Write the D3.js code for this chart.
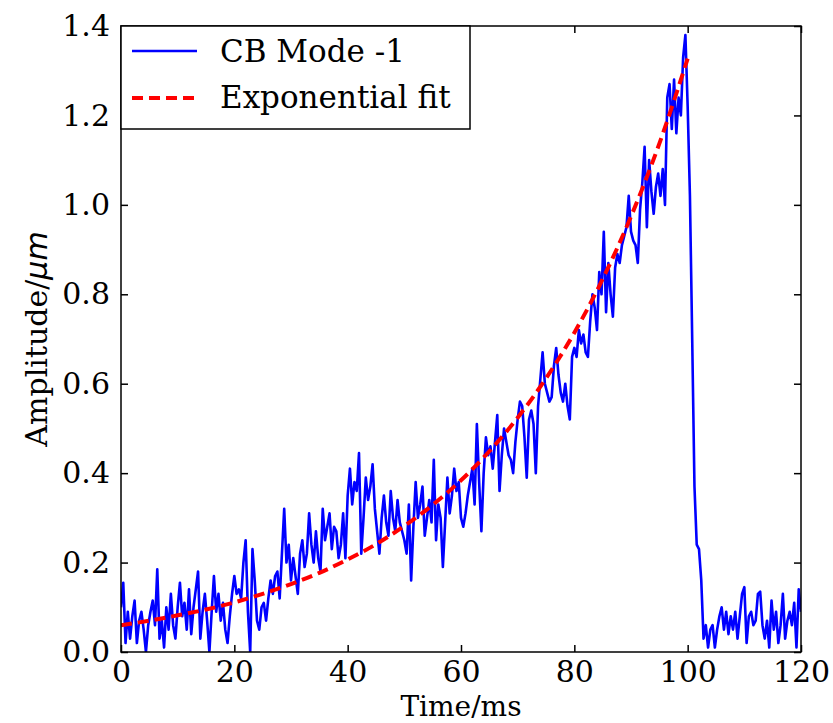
<!DOCTYPE html>
<html><head><meta charset="utf-8">
<script src="https://cdnjs.cloudflare.com/ajax/libs/d3/7.8.5/d3.min.js"></script>
<style>body{margin:0;background:#fff}</style></head>
<body><svg id="c" width="833" height="723"></svg>
<script>
// Sample grid of the measured signal (ms)
const timeStart = 0, timeStep = 0.4;
// CB Mode -1 amplitude (µm), one row per 10 ms
const cbMode = [
 0.10,0.155,0.02,0.09,0.03,0.08,0.115,0.02,0.07,0.09,0.05,0.0,0.06,0.09,0.115,0.06,0.185,0.03,0.07,0.01,0.10,0.05,0.13,0.06,0.03,
 0.10,0.155,0.08,0.11,0.05,0.14,0.04,0.10,0.14,0.18,0.03,0.09,0.13,0.07,0.0,0.09,0.17,0.09,0.13,0.07,0.11,0.05,0.02,0.08,0.13,
 0.17,0.13,0.14,0.12,0.20,0.25,0.09,0.0,0.23,0.16,0.07,0.05,0.10,0.11,0.07,0.12,0.16,0.13,0.17,0.18,0.12,0.22,0.32,0.20,0.24,
 0.16,0.21,0.17,0.13,0.22,0.25,0.19,0.22,0.31,0.24,0.20,0.27,0.21,0.18,0.32,0.25,0.28,0.31,0.23,0.28,0.27,0.21,0.24,0.31,0.21,
 0.35,0.41,0.33,0.38,0.36,0.445,0.22,0.30,0.39,0.34,0.37,0.42,0.32,0.27,0.22,0.30,0.35,0.29,0.26,0.36,0.30,0.27,0.34,0.29,0.27,
 0.25,0.22,0.33,0.16,0.28,0.38,0.30,0.33,0.37,0.26,0.30,0.34,0.29,0.43,0.25,0.33,0.30,0.19,0.29,0.39,0.31,0.35,0.41,0.36,0.38,
 0.30,0.28,0.31,0.35,0.38,0.41,0.33,0.51,0.38,0.27,0.40,0.48,0.44,0.46,0.41,0.47,0.53,0.36,0.44,0.50,0.47,0.44,0.43,0.40,0.47,
 0.52,0.56,0.55,0.48,0.39,0.52,0.54,0.51,0.40,0.55,0.61,0.67,0.60,0.58,0.56,0.57,0.64,0.68,0.62,0.58,0.56,0.60,0.55,0.52,0.66,
 0.68,0.66,0.72,0.69,0.71,0.67,0.66,0.74,0.80,0.77,0.72,0.85,0.80,0.94,0.76,0.87,0.80,0.75,0.86,0.89,0.87,0.91,0.93,0.95,1.02,
 0.94,0.92,0.91,0.87,0.99,1.05,1.13,0.95,1.10,1.03,0.98,1.04,1.07,1.02,1.08,1.00,1.24,1.27,1.17,1.28,1.16,1.24,1.20,1.33,1.38,
 1.22,1.02,0.70,0.37,0.24,0.23,0.16,0.03,0.06,0.01,0.05,0.06,0.01,0.05,0.08,0.10,0.05,0.09,0.04,0.08,0.05,0.09,0.03,0.08,0.13,
 0.145,0.02,0.08,0.09,0.06,0.07,0.13,0.135,0.06,0.03,0.07,0.01,0.115,0.05,0.09,0.02,0.06,0.13,0.03,0.07,0.09,0.06,0.11,0.01,0.14,
 0.09
];
// Exponential fit read at every 5 ms
const fitTime = [0,5,10,15,20,25,30,35,40,45,50,55,60,65,70,75,80,85,90,95,100];
const fitAmp  = [0.060,0.070,0.082,0.095,0.111,0.130,0.152,0.177,0.207,0.241,0.282,0.329,0.384,0.449,0.524,0.612,0.714,0.834,0.974,1.137,1.327];
const xTicks = [0,20,40,60,80,100,120];
const yTicks = [0.0,0.2,0.4,0.6,0.8,1.0,1.2,1.4];
const legendLabels = ["CB Mode -1","Exponential fit"];

const svg = d3.select("#c");
const L=121, R=801, T=26, B=652;
const x = d3.scaleLinear().domain([0,120]).range([L,R]);
const y = d3.scaleLinear().domain([0,1.4]).range([B,T]);
const serif = "'DejaVu Serif', serif";

const clip = svg.append("defs").append("clipPath").attr("id","pc");
clip.append("rect").attr("x",L).attr("y",T).attr("width",R-L).attr("height",B-T);

const sig = cbMode.map((v,i)=>[timeStart+i*timeStep, v]);
const line = d3.line().x(d=>x(d[0])).y(d=>y(d[1]));
const curve = d3.line().x(d=>x(d[0])).y(d=>y(d[1])).curve(d3.curveMonotoneX);

svg.append("path").datum(sig).attr("d",line).attr("clip-path","url(#pc)")
  .attr("fill","none").attr("stroke","#0000ff").attr("stroke-width",2.6).attr("stroke-linejoin","round");
svg.append("path").datum(fitTime.map((t,i)=>[t,fitAmp[i]])).attr("d",curve).attr("clip-path","url(#pc)")
  .attr("fill","none").attr("stroke","#ff0000").attr("stroke-width",4).attr("stroke-dasharray","11,6");

// axes with inward ticks on all sides
const tl = 7;
function styleAxis(g){ g.select(".domain").remove(); g.selectAll("line").attr("stroke","#000").attr("stroke-width",1.5);
  g.selectAll("text").attr("font-family",serif).attr("font-size",30).attr("fill","#000"); }
svg.append("g").attr("transform",`translate(0,${B})`)
  .call(d3.axisBottom(x).tickValues(xTicks).tickFormat(d3.format("d")).tickSizeInner(-tl).tickPadding(9))
  .call(styleAxis).selectAll("text").attr("dy","0.71em");
svg.append("g").attr("transform",`translate(0,${T})`)
  .call(d3.axisTop(x).tickValues(xTicks).tickFormat("").tickSizeInner(-tl)).call(styleAxis);
svg.append("g").attr("transform",`translate(${L},0)`)
  .call(d3.axisLeft(y).tickValues(yTicks).tickFormat(d3.format(".1f")).tickSizeInner(-tl).tickPadding(11))
  .call(styleAxis);
svg.append("g").attr("transform",`translate(${R},0)`)
  .call(d3.axisRight(y).tickValues(yTicks).tickFormat("").tickSizeInner(-tl)).call(styleAxis);
svg.append("rect").attr("x",L).attr("y",T).attr("width",R-L).attr("height",B-T)
  .attr("fill","none").attr("stroke","#000").attr("stroke-width",1.5);

// axis labels
svg.append("text").attr("x",(L+R)/2).attr("y",716).attr("text-anchor","middle")
  .attr("font-family",serif).attr("font-size",28).text("Time/ms");
const yl = svg.append("text").attr("transform",`translate(47,${(T+B)/2}) rotate(-90)`).attr("text-anchor","middle")
  .attr("font-family",serif).attr("font-size",30);
yl.append("tspan").text("Amplitude/");
yl.append("tspan").attr("font-family","'DejaVu Sans', sans-serif").attr("font-style","italic").text("μm");

// legend
const lg = svg.append("g");
lg.append("rect").attr("x",L).attr("y",T).attr("width",349).attr("height",103)
  .attr("fill","#fff").attr("stroke","#000").attr("stroke-width",1.5);
lg.append("line").attr("x1",132).attr("x2",197).attr("y1",51).attr("y2",51).attr("stroke","#0000ff").attr("stroke-width",2.6);
lg.append("line").attr("x1",132).attr("x2",197).attr("y1",98).attr("y2",98).attr("stroke","#ff0000").attr("stroke-width",4).attr("stroke-dasharray","11,6");
lg.selectAll("text.lt").data(legendLabels).enter().append("text").attr("class","lt")
  .attr("x",220).attr("y",(d,i)=>62+i*46).attr("font-family",serif).attr("font-size",31).text(d=>d);
</script></body></html>
